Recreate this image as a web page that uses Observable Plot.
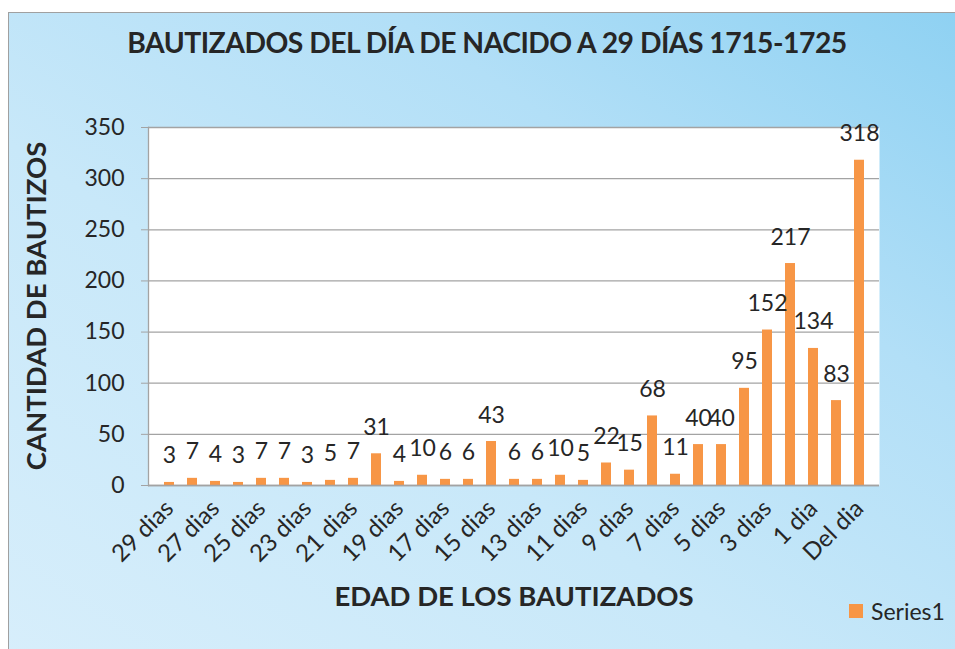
<!DOCTYPE html>
<html>
<head>
<meta charset="utf-8">
<script src="https://cdn.jsdelivr.net/npm/d3@7"></script>
<script src="https://cdn.jsdelivr.net/npm/@observablehq/plot@0.6"></script>
<style>
  html, body { margin: 0; padding: 0; background: #ffffff; }
  #wrap { position: relative; width: 955px; height: 649px; overflow: hidden; background: #ffffff; font-family: Lato, "Open Sans", sans-serif; color: #262626; }
  #bg { position: absolute; left: 8px; top: 12px; width: 960px; height: 650px; border: 1px solid #a0a0a0;
        background: linear-gradient(to top right, #d7eefb 0%, #c8e8f9 40%, #b2dff7 70%, #8ed1f2 100%); }
  #chart { position: absolute; left: 0; top: 0; }
  .title { position: absolute; left: 0; width: 974px; top: 25px; text-align: center; font-weight: 700; font-size: 28.3px; letter-spacing: -0.5px; }
  .ylab { position: absolute; left: 35px; top: 306px; transform: translate(-50%, -50%) rotate(-90deg); white-space: nowrap; font-weight: 700; font-size: 27.5px; }
  .xlab { position: absolute; left: 0; width: 1028px; top: 579px; text-align: center; font-weight: 700; font-size: 27.5px; }
  .legend { position: absolute; left: 849px; top: 597px; display: flex; align-items: center; font-size: 23px; }
  .legend span.sw { display: inline-block; width: 14px; height: 14px; background: #F79646; margin-right: 8px; }
</style>
</head>
<body>
<div id="wrap">
  <div id="bg"></div>
  <div id="chart"></div>
  <div class="title">BAUTIZADOS DEL DÍA DE NACIDO A 29 DÍAS 1715-1725</div>
  <div class="ylab">CANTIDAD DE BAUTIZOS</div>
  <div class="xlab">EDAD DE LOS BAUTIZADOS</div>
  <div class="legend"><span class="sw"></span>Series1</div>
</div>
<script>
const categories = [
  "29 dias","28 dias","27 dias","26 dias","25 dias","24 dias","23 dias","22 dias","21 dias","20 dias",
  "19 dias","18 dias","17 dias","16 dias","15 dias","14 dias","13 dias","12 dias","11 dias","10 dias",
  "9 dias","8 dias","7 dias","6 dias","5 dias","4 dias","3 dias","2 dias","1 dia","0 dias","Del dia"
];
const values = [3,7,4,3,7,7,3,5,7,31,4,10,6,6,43,6,6,10,5,22,15,68,11,40,40,95,152,217,134,83,318];
const yTicks = [0,50,100,150,200,250,300,350];
const shownLabels = categories.filter((d, i) => i % 2 === 0);

const data = categories.map((c, i) => ({ cat: c, value: values[i] }));

const chart = Plot.plot({
  width: 955,
  height: 649,
  marginLeft: 148,
  marginRight: 76,
  marginTop: 127,
  marginBottom: 164,
  style: { fontFamily: "Lato, 'Open Sans', sans-serif", fontSize: "23px", background: "transparent", color: "#262626", overflow: "visible" },
  x: { type: "band", domain: categories, padding: 0.58, align: 0.5 },
  y: { domain: [0, 350] },
  marks: [
    Plot.frame({ fill: "#ffffff", stroke: null }),
    Plot.gridY(yTicks, { stroke: "#a3a3a3", strokeOpacity: 1, strokeWidth: 1.3 }),
    Plot.barY(data, { x: "cat", y: "value", fill: "#F79646" }),
    Plot.text(data, { x: "cat", y: "value", text: d => String(d.value), dy: -19, lineAnchor: "bottom", fill: "#262626", fontSize: 23 }),
    Plot.axisY({ ticks: yTicks, tickSize: 7, tickPadding: 17, label: null, stroke: "#a3a3a3", fill: "#262626", fontSize: 23 }),
    Plot.frame({ anchor: "left", stroke: "#a3a3a3", strokeWidth: 1.3 }),
    Plot.ruleY([0], { stroke: "#a3a3a3", strokeWidth: 1.6 }),
    Plot.axisX({ ticks: shownLabels, tickSize: 0, tickPadding: 19, tickRotate: -45, label: null, fill: "#262626", fontSize: 24 })
  ]
});
document.getElementById("chart").appendChild(chart);
</script>
</body>
</html>
